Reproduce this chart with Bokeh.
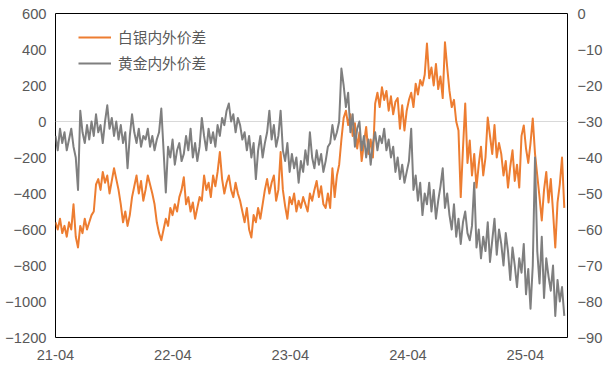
import datetime as dt
from bokeh.plotting import figure
from bokeh.models import (Range1d, LinearAxis, FixedTicker, DatetimeTickFormatter,
                          Span, Legend, LegendItem, ColumnDataSource)
from bokeh.embed import file_html
from bokeh.resources import INLINE

# ---- data (weekly readings from the reference) ----
start_date = dt.datetime(2021, 4, 1)
silver = [
    -560, -600, -540, -620, -580, -640, -560, -600, -460, -640,
    -700, -580, -620, -540, -600, -560, -520, -500, -350, -320,
    -380, -280, -340, -300, -400, -330, -260, -320, -380, -460,
    -560, -500, -580, -520, -420, -360, -300, -400, -330, -440,
    -380, -300, -350, -400, -460, -560, -620, -660, -600, -540,
    -580, -480, -520, -460, -500, -420, -380, -310, -460, -420,
    -500, -450, -540, -480, -420, -440, -300, -380, -340, -420,
    -300, -360, -280, -170, -320, -400, -340, -300, -380, -420,
    -340, -400, -440, -500, -560, -480, -600, -645, -520, -560,
    -480, -540, -460, -380, -320, -400, -340, -300, -440, -380,
    -170, -380, -470, -540, -420, -460, -400, -500, -440, -480,
    -420, -460, -500, -400, -440, -380, -330, -420, -360, -460,
    -480, -400, -480, -260, -420, -300, -240, -100, 20, 60,
    -20, 40, -80, -10, -150, -60, -220, -120, -30, -180,
    -100, -200, 100, 160, 80, 190, 120, 170, 60, 140,
    40, 110, 130, -40, 90, -50, 60, 120, 160, 80,
    210, 150, 230, 200, 260, 433, 240, 300, 200, 320,
    180, 250, 130, 440, 300, 170, 80, 120, 0, -50,
    -420, -150, 100, -230, -106, -300, -180, -367, -240, -140,
    -300, -200, 22, -80, -180, -20, -200, -120, -180, -300,
    -220, -367, -250, -160, -330, -240, -367, -80, -22, -150,
    -230, -120, 17, -180, -300, -420, -550, -380, -280, -450,
    -320, -500, -700, -450, -350, -200, -480,
]
gold = [
    -34, -38, -32, -36, -33, -38, -35, -32, -37, -40,
    -49, -27, -33, -36, -31, -35, -30, -34, -28, -33,
    -31, -36, -30, -25.5, -32, -29, -34, -30, -35, -31,
    -36, -33, -43, -34, -28, -33, -36, -32, -37, -34,
    -35, -32, -37, -34, -38, -35, -33, -26.4, -38, -49.7,
    -37, -40, -35, -42, -38, -36, -41, -39, -34, -38,
    -32, -40, -36, -41, -37, -29, -34, -38, -32, -36,
    -33, -37, -31, -34, -29, -31, -27, -25, -30, -28,
    -33, -29, -31, -35, -33, -38, -34, -40, -36, -46,
    -38, -34, -40, -36, -33, -27, -35, -31, -37, -34,
    -27, -38, -41, -36, -44, -39, -43, -40, -47, -41,
    -44, -38, -42, -33, -40, -43, -38, -42, -39, -44,
    -41, -37, -36, -31, -35, -33, -30, -15.3, -20, -26,
    -22, -33, -28, -37, -32, -30, -38, -34, -40, -35,
    -42, -36, -33, -38, -34, -36, -32, -38, -35, -40,
    -37, -44, -40, -46, -42, -47, -44, -41, -32, -49,
    -45, -52, -47, -56, -50, -53, -47, -55, -49, -57,
    -52, -48, -43, -54, -50, -56, -60, -53, -62, -57,
    -64, -58, -55, -61, -63, -59, -47, -65, -60, -68,
    -62, -66, -58, -69, -63, -57, -67, -60, -64, -70,
    -61, -66, -74, -65, -70, -76, -68, -72, -64, -78,
    -71, -82, -70, -40, -66, -75, -62, -79, -68, -73,
    -77, -70, -84, -74, -80, -76, -84,
]
tick_dates = [dt.datetime(y, 4, 1) for y in (2021, 2022, 2023, 2024, 2025)]
series_names = ["白银内外价差", "黄金内外价差"]
colors = ["#ED7D31", "#7F7F7F"]

dates = [start_date + dt.timedelta(weeks=i) for i in range(len(silver))]
src = ColumnDataSource(dict(x=dates, silver=silver, gold=gold))

def ms(d):
    return (d - dt.datetime(1970, 1, 1)).total_seconds() * 1000.0

p = figure(width=608, height=379, output_backend="svg", toolbar_location=None,
           x_axis_type="datetime",
           x_range=Range1d(ms(start_date), ms(dt.datetime(2025, 8, 10))),
           y_range=Range1d(-1200, 600),
           min_border_left=55, min_border_right=41, min_border_top=13, min_border_bottom=42)
p.extra_y_ranges = {"right": Range1d(-90, 0)}
p.grid.visible = False
p.outline_line_color = "black"
p.outline_line_width = 1
p.background_fill_color = "white"
p.border_fill_color = "white"

label_color = "#595959"
fs = "14.7px"
font = "Liberation Sans"

def style_axis(ax, standoff):
    ax.axis_line_color = None
    ax.major_tick_line_color = None
    ax.minor_tick_line_color = None
    ax.major_tick_in = 0
    ax.major_tick_out = 0
    ax.minor_tick_in = 0
    ax.minor_tick_out = 0
    ax.major_label_standoff = standoff
    ax.major_label_text_color = label_color
    ax.major_label_text_font_size = fs
    ax.major_label_text_font = font

xa = p.xaxis[0]
xa.ticker = FixedTicker(ticks=[ms(d) for d in tick_dates])
fmt = "%y-%m"
xa.formatter = DatetimeTickFormatter(years=fmt, months=fmt, days=fmt, hours=fmt,
                                     minutes=fmt, seconds=fmt, milliseconds=fmt,
                                     microseconds=fmt, minsec=fmt, hourmin=fmt)
style_axis(xa, 12)

ya = p.yaxis[0]
ya.ticker = FixedTicker(ticks=list(range(-1200, 601, 200)))
style_axis(ya, 9)

ra = LinearAxis(y_range_name="right", ticker=FixedTicker(ticks=list(range(-90, 1, 10))))
style_axis(ra, 10)
p.add_layout(ra, "right")

zero = Span(location=0, dimension="width", line_color="#D9D9D9", line_width=1, level="underlay")
p.add_layout(zero)

r1 = p.line("x", "silver", source=src, line_color=colors[0], line_width=2, line_join="round")
r2 = p.line("x", "gold", source=src, y_range_name="right", line_color=colors[1],
            line_width=2, line_join="round")

legend = Legend(items=[LegendItem(label=series_names[0], renderers=[r1]),
                       LegendItem(label=series_names[1], renderers=[r2])],
                location=(23, 264), orientation="vertical",
                background_fill_alpha=0, border_line_color=None,
                padding=0, margin=0, spacing=5,
                glyph_width=33, glyph_height=20, label_height=20, label_standoff=7,
                label_text_font="Noto Sans CJK SC", label_text_font_size=fs,
                label_text_color=label_color)
p.add_layout(legend, "center")

open("out.html", "w").write(file_html(p, INLINE))
